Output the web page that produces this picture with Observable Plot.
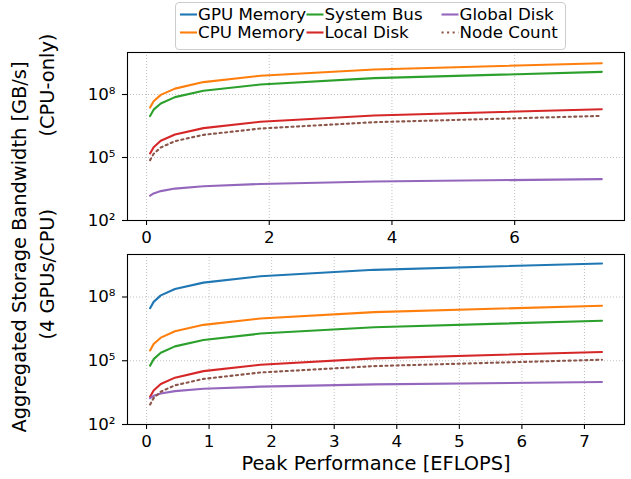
<!DOCTYPE html>
<html><head><meta charset="utf-8">
<script src="https://cdn.jsdelivr.net/npm/d3@7"></script>
<script src="https://cdn.jsdelivr.net/npm/@observablehq/plot@0.6"></script>
<style>
body{margin:0;background:#fff;}
#fig{position:relative;width:631px;height:479px;overflow:hidden;font-family:"DejaVu Sans",sans-serif;color:#000;}
#fig > svg{position:absolute;left:0;}
.lab{position:absolute;white-space:nowrap;font-size:19.4px;line-height:1;}
#legend{position:absolute;left:175px;top:2px;width:391px;height:48px;box-sizing:border-box;border:1px solid #cccccc;border-radius:4px;background:rgba(255,255,255,0.8);}
.li{position:absolute;white-space:nowrap;font-size:16.67px;line-height:1;transform:translateY(-50%);}
</style></head><body><div id="fig"></div>
<script>
// Series names / colours (legend order)
const seriesNames = ["GPU Memory", "CPU Memory", "System Bus", "Local Disk", "Global Disk", "Node Count"];
const seriesColors = ["#1f77b4", "#ff7f0e", "#2ca02c", "#d62728", "#9467bd", "#8c564b"];

// Top panel: CPU-only
const cpuOnlyPeak = [0.058, 0.116, 0.232, 0.464, 0.928, 1.855, 3.71, 7.42];
const cpuOnlyCpuMemory = [2.4e7, 4.8e7, 9.6e7, 1.9e8, 3.9e8, 7.8e8, 1.55e9, 3.1e9];
const cpuOnlySystemBus = [9.4e6, 1.9e7, 3.75e7, 7.5e7, 1.5e8, 3.0e8, 6.0e8, 1.2e9];
const cpuOnlyLocalDisk = [1.56e5, 3.1e5, 6.3e5, 1.25e6, 2.5e6, 5.0e6, 1.0e7, 2.0e7];
const cpuOnlyGlobalDisk = [1510, 1950, 2510, 3310, 4270, 5500, 7240, 9330];
const cpuOnlyNodeCount = [7.5e4, 1.5e5, 3.0e5, 6.0e5, 1.2e6, 2.4e6, 4.8e6, 9.6e6];

// Bottom panel: 4 GPUs/CPU
const gpuPeak = [0.057, 0.114, 0.228, 0.455, 0.91, 1.82, 3.64, 7.28];
const gpuGpuMemory = [2.97e7, 5.9e7, 1.19e8, 2.4e8, 4.75e8, 9.5e8, 1.9e9, 3.8e9];
const gpuCpuMemory = [3.05e5, 6.1e5, 1.22e6, 2.44e6, 4.9e6, 9.75e6, 1.95e7, 3.9e7];
const gpuSystemBus = [5.9e4, 1.19e5, 2.4e5, 4.75e5, 9.5e5, 1.9e6, 3.8e6, 7.6e6];
const gpuLocalDisk = [2.0e3, 4.0e3, 8.1e3, 1.6e4, 3.25e4, 6.5e4, 1.3e5, 2.6e5];
const gpuGlobalDisk = [1740, 2240, 2880, 3720, 4790, 6030, 7760, 1.0e4];
const gpuNodeCount = [875, 1750, 3500, 7000, 1.4e4, 2.8e4, 5.6e4, 1.12e5];

// Ticks
const topXTicks = [0, 2, 4, 6];
const bottomXTicks = [0, 1, 2, 3, 4, 5, 6, 7];
const yTicks = [1e2, 1e5, 1e8];

const topSeries = [
  ["CPU Memory", cpuOnlyCpuMemory],
  ["System Bus", cpuOnlySystemBus],
  ["Local Disk", cpuOnlyLocalDisk],
  ["Global Disk", cpuOnlyGlobalDisk],
  ["Node Count", cpuOnlyNodeCount]
];
const bottomSeries = [
  ["GPU Memory", gpuGpuMemory],
  ["CPU Memory", gpuCpuMemory],
  ["System Bus", gpuSystemBus],
  ["Local Disk", gpuLocalDisk],
  ["Global Disk", gpuGlobalDisk],
  ["Node Count", gpuNodeCount]
];

const supMap = {"0":"⁰","1":"¹","2":"²","3":"³","4":"⁴","5":"⁵","6":"⁶","7":"⁷","8":"⁸","9":"⁹"};
const sup = d => "10" + String(Math.round(Math.log10(d))).split("").map(c => supMap[c]).join("");

const gridStyle = {stroke: "#b0b0b0", strokeOpacity: 1, strokeWidth: 0.8, strokeDasharray: "1,2"};

function lineMarks(peak, series) {
  return series.map(([name, vals]) => {
    const i = seriesNames.indexOf(name);
    const rows = peak.map((x, k) => ({x, y: vals[k]}));
    return Plot.line(rows, {
      x: "x", y: "y", stroke: seriesColors[i], strokeWidth: 2.1,
      strokeDasharray: name === "Node Count" ? "2.1,3.45" : null,
      strokeLinejoin: "round"
    });
  });
}

function panel({peak, series, xTicks, xDomain, height, marginTop, marginBottom, ylabel, xlabel}) {
  const marks = [
    Plot.gridX(xTicks, gridStyle),
    Plot.gridY(yTicks, gridStyle),
    ...lineMarks(peak, series),
    Plot.frame({stroke: "#000", strokeWidth: 1.1}),
    Plot.axisX(xTicks, {tickSize: 5, tickPadding: 6, label: null, fontSize: 16.67, tickFormat: d => String(d), strokeWidth: 1.1}),
    Plot.axisY(yTicks, {tickSize: 5, tickPadding: 7, label: null, fontSize: 16.67, tickFormat: sup, strokeWidth: 1.1}),
    Plot.text([ylabel], {text: d => d, frameAnchor: "left", dx: -80, rotate: -90, fontSize: 19.4})
  ];
  if (xlabel) marks.push(Plot.text([xlabel], {text: d => d, frameAnchor: "bottom", dy: 45, fontSize: 19.4}));
  return Plot.plot({
    width: 631, height, marginLeft: 127, marginRight: 7, marginTop, marginBottom,
    style: {fontFamily: "DejaVu Sans", fontSize: "16.67px", background: "transparent", color: "#000", overflow: "visible"},
    x: {domain: xDomain},
    y: {type: "log", domain: [1e2, 1e10]},
    marks
  });
}

const fig = document.getElementById("fig");
const p1 = panel({peak: cpuOnlyPeak, series: topSeries, xTicks: topXTicks, xDomain: [-0.31, 7.79],
  height: 250, marginTop: 52, marginBottom: 30, ylabel: "(CPU-only)"});
p1.style.top = "0px";
fig.appendChild(p1);
const p2 = panel({peak: gpuPeak, series: bottomSeries, xTicks: bottomXTicks, xDomain: [-0.304, 7.64],
  height: 229, marginTop: 4, marginBottom: 55, ylabel: "(4 GPUs/CPU)", xlabel: "Peak Performance [EFLOPS]"});
p2.style.top = "250px";
fig.appendChild(p2);

// Shared y label
const yl = document.createElement("div");
yl.className = "lab";
yl.textContent = "Aggregated Storage Bandwidth [GB/s]";
yl.style.left = "20px"; yl.style.top = "247px";
yl.style.transform = "translate(-50%,-50%) rotate(-90deg)";
fig.appendChild(yl);

// Legend
const legend = document.createElement("div");
legend.id = "legend";
fig.appendChild(legend);
const colX = [180, 306.5, 441.5];
const rowY = [14.5, 32.5];
const hs = d3.select(fig).append("svg").attr("width", 631).attr("height", 52).style("top", "0px").style("position", "absolute").style("left", "0px");
seriesNames.forEach((name, i) => {
  const c = Math.floor(i / 2), r = i % 2;
  const x0 = colX[c], y0 = rowY[r];
  hs.append("line").attr("x1", x0).attr("x2", x0 + 17).attr("y1", y0).attr("y2", y0)
    .attr("stroke", seriesColors[i]).attr("stroke-width", 2.1)
    .attr("stroke-dasharray", name === "Node Count" ? "2.1,3.45" : null);
  const t = document.createElement("div");
  t.className = "li";
  t.textContent = name;
  t.style.left = (x0 + 18) + "px";
  t.style.top = y0 + "px";
  fig.appendChild(t);
});
</script></body></html>
